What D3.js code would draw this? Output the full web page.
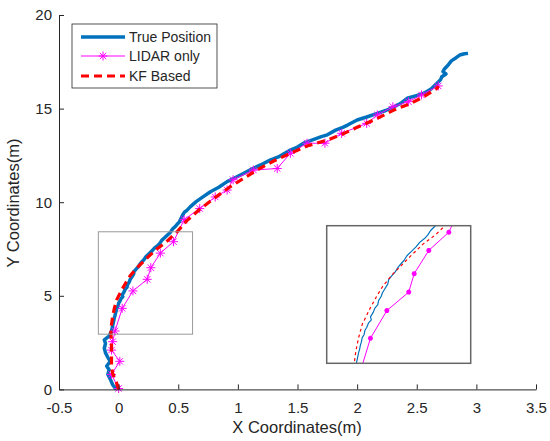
<!DOCTYPE html>
<html>
<head>
<meta charset="utf-8">
<script src="https://d3js.org/d3.v7.min.js"></script>
<style>
body { margin: 0; background: #fff; }
text { font-family: "Liberation Sans", Arial, sans-serif; fill: #262626; }
</style>
</head>
<body>
<svg width="550" height="441"></svg>
<script>
// true position (blue)
var trueX = [-0.02,-0.05,-0.07,-0.09,-0.08,-0.10,-0.07,-0.09,-0.11,-0.12,-0.11,-0.12,-0.08,-0.06,
  -0.05,-0.045,-0.04,-0.035,-0.03,-0.025,-0.02,-0.015,-0.005,0.00,0.01,0.02,0.035,0.03,0.045,0.055,
  0.07,0.075,0.09,0.095,0.11,0.125,0.13,0.15,0.165,0.18,0.20,0.215,0.23,0.255,0.28,0.30,0.33,0.345,
  0.36,0.385,0.41,0.435,0.45,0.475,0.495,0.51,
  0.54,0.55,0.57,0.60,0.65,0.71,0.77,0.84,0.91,0.98,1.05,1.12,1.19,1.27,1.35,1.43,1.50,1.55,1.62,1.70,
  1.75,1.82,1.88,1.92,2.00,2.08,2.17,2.24,2.31,2.37,2.42,2.49,2.56,2.62,2.67,2.70,2.71,2.745,2.72,2.73,
  2.76,2.79,2.83,2.86,2.90,2.93];
var trueY = [0.00,0.25,0.55,0.80,1.05,1.25,1.50,1.70,1.95,2.20,2.45,2.65,2.85,3.10,
  3.40,3.55,3.70,3.85,3.95,4.10,4.20,4.35,4.45,4.60,4.70,4.85,4.95,5.05,5.20,5.35,
  5.45,5.60,5.75,5.85,6.00,6.15,6.30,6.45,6.55,6.70,6.85,6.95,7.10,7.25,7.40,7.55,7.70,7.80,
  7.95,8.10,8.25,8.40,8.55,8.70,8.85,8.95,
  9.35,9.45,9.55,9.75,10.03,10.30,10.56,10.80,11.10,11.32,11.54,11.78,11.99,12.25,12.45,12.75,12.95,13.15,13.32,13.50,
  13.60,13.85,14.00,14.12,14.39,14.55,14.75,14.90,15.10,15.30,15.55,15.68,15.82,16.05,16.35,16.55,16.70,16.85,16.98,17.10,
  17.30,17.55,17.72,17.86,17.93,17.95];

// LIDAR only (magenta stars)
var lidarX = [0.00,-0.06,0.01,-0.06,-0.05,-0.03,0.03,0.12,0.24,0.27,0.35,0.46,0.55,0.68,0.81,0.91,0.96,1.13,1.33,1.44,
  1.58,1.73,1.87,2.08,2.17,2.30,2.43,2.54,2.68];
var lidarY = [0.05,0.80,1.50,2.10,2.55,3.12,4.33,5.26,5.88,6.50,7.28,7.89,9.07,9.66,10.28,10.65,11.20,11.72,11.80,12.61,
  13.15,13.15,13.68,14.21,14.66,15.10,15.37,15.73,16.21];

// KF based (red dashed)
var kfX = [0.00,-0.02,-0.05,-0.06,-0.06,-0.06,-0.06,-0.065,-0.06,-0.05,-0.035,-0.015,0.025,0.065,0.10,0.155,0.25,0.32,0.39,0.49,
  0.57,0.68,0.81,0.93,1.05,1.16,1.30,1.44,1.58,1.75,1.86,2.00,2.17,2.31,2.45,2.56,2.67,2.68];
var kfY = [0.00,0.40,0.85,1.25,1.70,2.10,2.55,3.00,3.45,3.90,4.35,4.80,5.30,5.75,6.10,6.50,7.09,7.50,7.82,8.42,
  9.00,9.62,10.25,10.80,11.28,11.72,12.20,12.61,13.00,13.32,13.59,14.00,14.48,14.93,15.28,15.64,16.08,16.21];

var xTicks = [-0.5,0,0.5,1,1.5,2,2.5,3,3.5];
var yTicks = [0,5,10,15,20];
var legendNames = ["True Position","LIDAR only","KF Based"];

// zoom box in main axes and the inset's limits
var boxX = [-0.17, 0.62], boxY = [2.95, 8.42];
var insetX = [-0.21, 0.58], insetY = [3.49, 8.11];

var svg = d3.select("svg");
var axisColor = "#262626";

var x = d3.scaleLinear().domain([-0.5, 3.5]).range([59, 536]);
var y = d3.scaleLinear().domain([0, 20]).range([389.4, 15]);

function zip(xs, ys) { return xs.map(function(v, i) { return [v, ys[i]]; }); }
var truePts = zip(trueX, trueY), lidarPts = zip(lidarX, lidarY), kfPts = zip(kfX, kfY);

function star(r) {
  var a = r * 0.707;
  return "M" + (-r) + ",0L" + r + ",0M0," + (-r) + "L0," + r +
    "M" + (-a) + "," + (-a) + "L" + a + "," + a + "M" + (-a) + "," + a + "L" + a + "," + (-a);
}

function drawSeries(g, sx, sy, thin) {
  var line = d3.line().x(function(d) { return sx(d[0]); }).y(function(d) { return sy(d[1]); });
  g.append("path").attr("d", line(truePts)).attr("fill", "none")
    .attr("stroke", "#0072BD").attr("stroke-width", thin ? 1.2 : 3.5).attr("stroke-linejoin", "round");
  g.append("path").attr("d", line(lidarPts)).attr("fill", "none")
    .attr("stroke", "#FF00FF").attr("stroke-width", 1);
  g.selectAll("path.star").data(lidarPts).enter().append("path").attr("class", "star")
    .attr("d", star(thin ? 2.5 : 4.5))
    .attr("transform", function(d) { return "translate(" + sx(d[0]) + "," + sy(d[1]) + ")"; })
    .attr("stroke", "#FF00FF").attr("stroke-width", thin ? 1.5 : 1).attr("fill", "none");
  g.append("path").attr("d", line(kfPts)).attr("fill", "none")
    .attr("stroke", "#FF0000").attr("stroke-width", thin ? 1.2 : 3.2)
    .attr("stroke-dasharray", thin ? "3,3" : "8,5");
}

// main series
drawSeries(svg.append("g"), x, y, false);

// zoom rectangle
svg.append("rect")
  .attr("x", x(boxX[0])).attr("y", y(boxY[1]))
  .attr("width", x(boxX[1]) - x(boxX[0])).attr("height", y(boxY[0]) - y(boxY[1]))
  .attr("fill", "none").attr("stroke", "#999").attr("stroke-width", 1);

// axes, ticks inward, no box
var xAxis = svg.append("g").attr("transform", "translate(0," + y(0) + ")")
  .call(d3.axisBottom(x).tickValues(xTicks).tickSizeInner(-5).tickSizeOuter(0).tickPadding(13)
    .tickFormat(function(d) { return d; }));
var yAxis = svg.append("g").attr("transform", "translate(" + x(-0.5) + ",0)")
  .call(d3.axisLeft(y).tickValues(yTicks).tickSizeInner(-5).tickSizeOuter(0).tickPadding(7));
[xAxis, yAxis].forEach(function(a) {
  a.select(".domain").attr("stroke", axisColor);
  a.selectAll(".tick line").attr("stroke", axisColor);
  a.selectAll(".tick text").attr("fill", axisColor).style("font-size", "15px")
    .style("font-family", "'Liberation Sans', Arial, sans-serif");
});

svg.append("text").text("X Coordinates(m)")
  .attr("x", 297).attr("y", 433).attr("text-anchor", "middle").style("font-size", "16.5px");
svg.append("text").text("Y Coordinates(m)")
  .attr("transform", "translate(19,203) rotate(-90)").attr("text-anchor", "middle").style("font-size", "16.5px");

// legend
var lg = svg.append("g");
lg.append("rect").attr("x", 72).attr("y", 24).attr("width", 145).attr("height", 64)
  .attr("fill", "#fff").attr("stroke", axisColor).attr("stroke-width", 0.8);
var rows = [37, 56, 76];
lg.append("line").attr("x1", 81).attr("x2", 125).attr("y1", rows[0]).attr("y2", rows[0])
  .attr("stroke", "#0072BD").attr("stroke-width", 3.5);
lg.append("line").attr("x1", 81).attr("x2", 125).attr("y1", rows[1]).attr("y2", rows[1])
  .attr("stroke", "#FF00FF").attr("stroke-width", 1);
lg.append("path").attr("d", star(4.5)).attr("transform", "translate(103," + rows[1] + ")")
  .attr("stroke", "#FF00FF").attr("fill", "none");
lg.append("line").attr("x1", 81).attr("x2", 125).attr("y1", rows[2]).attr("y2", rows[2])
  .attr("stroke", "#FF0000").attr("stroke-width", 3.2).attr("stroke-dasharray", "8,5");
legendNames.forEach(function(n, i) {
  lg.append("text").text(n).attr("x", 129).attr("y", rows[i] + 5).style("font-size", "14px");
});

// inset axes
var ix = d3.scaleLinear().domain(insetX).range([326.7, 470.7]);
var iy = d3.scaleLinear().domain(insetY).range([363.3, 225.7]);
svg.append("rect").attr("x", 326.7).attr("y", 225.7).attr("width", 144).attr("height", 137.6).attr("fill", "#fff");
svg.append("clipPath").attr("id", "insetClip").append("rect")
  .attr("x", 326.7).attr("y", 225.7).attr("width", 144).attr("height", 137.6);
drawSeries(svg.append("g").attr("clip-path", "url(#insetClip)"), ix, iy, true);
svg.append("rect").attr("x", 326.7).attr("y", 225.7).attr("width", 144).attr("height", 137.6)
  .attr("fill", "none").attr("stroke", "#666").attr("stroke-width", 1.5);
</script>
</body>
</html>
